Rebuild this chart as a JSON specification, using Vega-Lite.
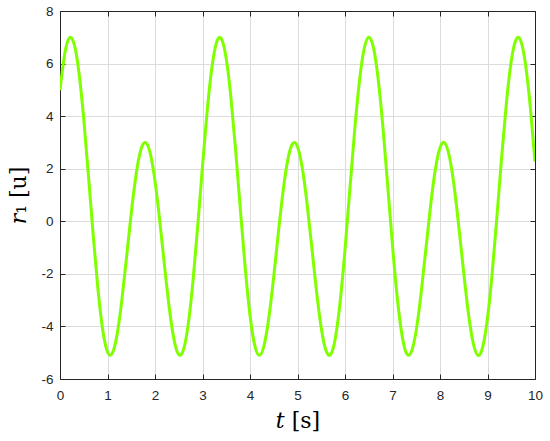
{
  "$schema": "https://vega.github.io/schema/vega-lite/v6.json",
  "autosize": {"type": "none"},
  "width": 475,
  "height": 368,
  "padding": {"left": 60, "top": 11, "right": 15, "bottom": 62},
  "background": "white",
  "config": {
    "view": {"stroke": "#262626", "strokeWidth": 1},
    "axis": {
      "labelFont": "Liberation Sans",
      "labelFontSize": 13.5,
      "labelColor": "#262626",
      "labelFlush": false,
      "labelOverlap": false,
      "domainColor": "#262626",
      "tickColor": "#262626",
      "gridColor": "#dcdcdc",
      "gridWidth": 1,
      "tickSize": -5,
      "titleFont": "DejaVu Serif",
      "titleFontWeight": "normal",
      "titleFontSize": 22,
      "titleColor": "#000000"
    }
  },
  "data": {"values": [
    {"t":0.0,"r":4.988},{"t":0.1,"r":6.372},{"t":0.2,"r":6.982},{"t":0.3,"r":6.727},{"t":0.4,"r":5.643},
    {"t":0.5,"r":3.885},{"t":0.6,"r":1.713},{"t":0.7,"r":-0.556},{"t":0.8,"r":-2.599},{"t":0.9,"r":-4.139},
    {"t":1.0,"r":-4.975},{"t":1.1,"r":-5.024},{"t":1.2,"r":-4.323},{"t":1.3,"r":-3.029},{"t":1.4,"r":-1.388},
    {"t":1.5,"r":0.306},{"t":1.6,"r":1.752},{"t":1.7,"r":2.704},{"t":1.8,"r":2.996},{"t":1.9,"r":2.583},
    {"t":2.0,"r":1.528},{"t":2.1,"r":0.016},{"t":2.2,"r":-1.689},{"t":2.3,"r":-3.289},{"t":2.4,"r":-4.496},
    {"t":2.5,"r":-5.072},{"t":2.6,"r":-4.884},{"t":2.7,"r":-3.914},{"t":2.8,"r":-2.269},{"t":2.9,"r":-0.164},
    {"t":3.0,"r":2.108},{"t":3.1,"r":4.225},{"t":3.2,"r":5.881},{"t":3.3,"r":6.829},{"t":3.4,"r":6.938},
    {"t":3.5,"r":6.185},{"t":3.6,"r":4.673},{"t":3.7,"r":2.646},{"t":3.8,"r":0.379},{"t":3.9,"r":-1.795},
    {"t":4.0,"r":-3.575},{"t":4.1,"r":-4.721},{"t":4.2,"r":-5.100},{"t":4.3,"r":-4.698},{"t":4.4,"r":-3.625},
    {"t":4.5,"r":-2.094},{"t":4.6,"r":-0.386},{"t":4.7,"r":1.195},{"t":4.8,"r":2.384},{"t":4.9,"r":2.960},
    {"t":5.0,"r":2.839},{"t":5.1,"r":2.034},{"t":5.2,"r":0.685},{"t":5.3,"r":-0.975},{"t":5.4,"r":-2.657},
    {"t":5.5,"r":-4.058},{"t":5.6,"r":-4.920},{"t":5.7,"r":-5.060},{"t":5.8,"r":-4.409},{"t":5.9,"r":-3.024},
    {"t":6.0,"r":-1.076},{"t":6.1,"r":1.166},{"t":6.2,"r":3.390},{"t":6.3,"r":5.270},{"t":6.4,"r":6.534},
    {"t":6.5,"r":7.000},{"t":6.6,"r":6.596},{"t":6.7,"r":5.384},{"t":6.8,"r":3.541},{"t":6.9,"r":1.333},
    {"t":7.0,"r":-0.923},{"t":7.1,"r":-2.900},{"t":7.2,"r":-4.332},{"t":7.3,"r":-5.039},{"t":7.4,"r":-4.955},
    {"t":7.5,"r":-4.141},{"t":7.6,"r":-2.771},{"t":7.7,"r":-1.098},{"t":7.8,"r":0.573},{"t":7.9,"r":1.954},
    {"t":8.0,"r":2.801},{"t":8.1,"r":2.977},{"t":8.2,"r":2.445},{"t":8.3,"r":1.296},{"t":8.4,"r":-0.268},
    {"t":8.5,"r":-1.974},{"t":8.6,"r":-3.527},{"t":8.7,"r":-4.641},{"t":8.8,"r":-5.097},{"t":8.9,"r":-4.775},
    {"t":9.0,"r":-3.681},{"t":9.1,"r":-1.940},{"t":9.2,"r":0.214},{"t":9.3,"r":2.486},{"t":9.4,"r":4.543},
    {"t":9.5,"r":6.096},{"t":9.6,"r":6.910},{"t":9.7,"r":6.871},{"t":9.8,"r":5.978},{"t":9.9,"r":4.364},
    {"t":10.0,"r":2.273}
  ]},
  "layer": [
    {
      "mark": {"type": "line", "color": "#80ff00", "strokeWidth": 3, "interpolate": "natural", "clip": true},
      "encoding": {
        "x": {"field": "t", "type": "quantitative",
              "scale": {"domain": [0, 10], "nice": false, "zero": false},
              "axis": {"orient": "bottom", "values": [0,1,2,3,4,5,6,7,8,9,10], "labelExpr": "'' + datum.value",
                       "title": "𝑡 [s]", "titlePadding": 9, "labelPadding": 14, "grid": true, "domain": true}},
        "y": {"field": "r", "type": "quantitative",
              "scale": {"domain": [-6, 8], "nice": false, "zero": false},
              "axis": {"orient": "left", "values": [-6,-4,-2,0,2,4,6,8], "labelExpr": "'' + datum.value",
                       "title": "𝑟₁ [u]", "titlePadding": 10, "labelPadding": 12, "grid": true, "domain": true}}
      }
    },
    {
      "mark": {"type": "line", "strokeOpacity": 0},
      "encoding": {
        "x": {"field": "t", "type": "quantitative",
              "axis": {"orient": "top", "values": [0,1,2,3,4,5,6,7,8,9,10], "labels": false, "title": null, "grid": false}},
        "y": {"field": "r", "type": "quantitative",
              "axis": {"orient": "right", "values": [-6,-4,-2,0,2,4,6,8], "labels": false, "title": null, "grid": false}}
      }
    }
  ],
  "resolve": {"axis": {"x": "independent", "y": "independent"}}
}
